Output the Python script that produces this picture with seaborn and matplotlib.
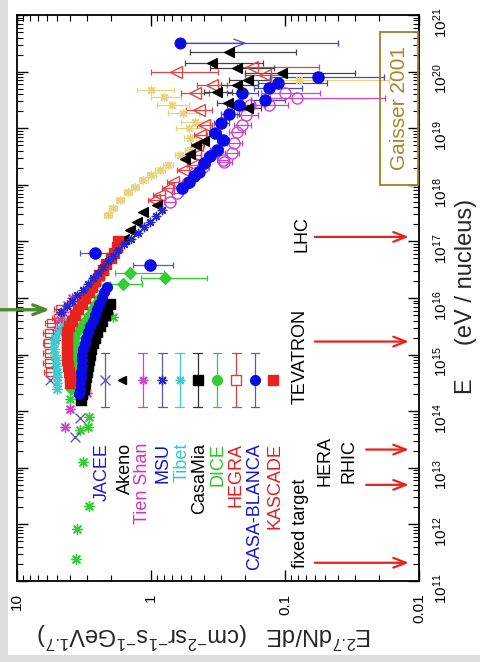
import numpy as np
import matplotlib
matplotlib.use("Agg")
import matplotlib.pyplot as plt
import seaborn as sns
from matplotlib.patches import Rectangle
from matplotlib.ticker import FixedLocator, FuncFormatter, LogLocator, NullFormatter

sns.set_style("ticks")
plt.rcParams["font.family"] = ["Liberation Sans", "DejaVu Sans"]
plt.rcParams["mathtext.fontset"] = "custom"
plt.rcParams["mathtext.rm"] = "Liberation Sans"
plt.rcParams["mathtext.it"] = "Liberation Sans:italic"
plt.rcParams["mathtext.bf"] = "Liberation Sans:bold"

# ---------------- data: log10(E / eV) and E^2.7 dN/dE ----------------
# direct measurements below the knee (green asterisks)
direct_logE = [11.39, 11.92, 12.33, 13.10, 13.67, 13.72, 13.90, 14.22, 15.66]
direct_flux = [3.62, 3.55, 2.90, 3.20, 3.40, 2.95, 2.90, 4.00, 1.93]

jacee_logE = [13.54, 13.88, 14.55]
jacee_flux = [3.70, 3.40, 5.68]

tienshan_logE = [13.72, 14.04, 14.32, 15.26, 15.43, 15.61, 15.75, 15.88, 16.00]
tienshan_flux = [4.39, 4.03, 3.00, 5.20, 5.00, 4.78, 4.50, 4.20, 3.90]

msu_logE = [15.75, 15.85, 15.95, 16.05, 16.15, 16.25, 16.35, 16.45, 16.55, 16.65,
            16.75, 16.85, 16.95, 17.05, 17.15, 17.25, 17.35, 17.45, 17.55]
msu_flux = [4.70, 4.25, 3.90, 3.55, 3.20, 2.95, 2.70, 2.50, 2.30, 2.10,
            1.92, 1.75, 1.60, 1.42, 1.25, 1.12, 1.02, 0.92, 0.83]

tibet_logE = [14.4, 14.5, 14.6, 14.7, 14.8, 14.9, 15.0, 15.1, 15.2, 15.3, 15.4,
              15.5, 15.6, 15.7, 15.8, 15.9, 16.0, 16.1, 16.2, 16.3, 16.4]
tibet_flux = [5.00, 5.00, 5.00, 5.05, 5.10, 5.15, 5.20, 5.25, 5.30, 5.20, 4.85,
              4.50, 4.15, 3.85, 3.55, 3.30, 3.05, 2.85, 2.65, 2.50, 2.35]

casamia_logE = [14.2, 14.3, 14.4, 14.5, 14.6, 14.7, 14.8, 14.9, 15.0, 15.1, 15.2,
                15.3, 15.4, 15.5, 15.6, 15.7, 15.8, 15.9]
casamia_flux = [3.35, 3.25, 3.15, 3.10, 3.05, 3.00, 2.95, 2.90, 2.85, 2.80, 2.72,
                2.62, 2.52, 2.42, 2.32, 2.22, 2.12, 2.03]

dice_logE = [14.4, 14.5, 14.6, 14.7, 14.8, 14.9, 15.0, 15.1, 15.2, 15.3, 15.4,
             15.5, 15.6, 15.7, 15.8, 15.9, 16.0]
dice_flux = [3.95, 3.92, 3.88, 3.85, 3.82, 3.78, 3.75, 3.72, 3.70, 3.68, 3.55,
             3.35, 3.12, 2.92, 2.75, 2.60, 2.45]
dice_hi_logE = [16.25, 16.35, 16.44]
dice_hi_flux = [1.62, 0.79, 1.44]
dice_hi_fmin = [1.16, 0.38, 0.80]
dice_hi_fmax = [2.03, 1.18, 1.86]

hegra_logE = [14.70, 14.85, 15.03, 15.20, 15.38, 15.56, 15.65, 15.80]
hegra_flux = [5.70, 5.80, 5.80, 5.85, 5.80, 5.60, 4.95, 4.78]

casablanca_logE = [14.3, 14.4, 14.5, 14.6, 14.7, 14.8, 14.9, 15.0, 15.1, 15.2,
                   15.3, 15.4, 15.5, 15.6, 15.7, 15.8, 15.9, 16.0, 16.1, 16.2]
casablanca_flux = [3.42, 3.40, 3.38, 3.35, 3.32, 3.30, 3.28, 3.25, 3.20, 3.12,
                   3.03, 2.95, 2.83, 2.72, 2.62, 2.52, 2.43, 2.33, 2.24, 2.14]
casablanca_hi_logE = [16.58, 16.80]
casablanca_hi_flux = [1.02, 2.63]
casablanca_hi_fmin = [0.69, 2.03]
casablanca_hi_fmax = [1.37, 3.40]

kascade_logE = [14.5, 14.6, 14.7, 14.8, 14.9, 15.0, 15.1, 15.2, 15.3, 15.4, 15.5,
                15.6, 15.7, 15.8, 15.9, 16.0, 16.1, 16.2, 16.3, 16.4, 16.5, 16.6,
                16.7, 16.8, 16.9, 17.0]
kascade_flux = [4.00, 4.05, 4.10, 4.15, 4.20, 4.20, 4.25, 4.25, 4.25, 4.20, 4.10,
                3.90, 3.70, 3.50, 3.30, 3.10, 2.90, 2.75, 2.60, 2.45, 2.30, 2.15,
                2.00, 1.90, 1.80, 1.75]

akeno_logE = [16.50, 16.62, 16.75, 16.90, 17.05, 17.20, 17.35, 17.52, 17.64,
              18.45, 18.55, 18.70, 18.78]
akeno_flux = [2.30, 2.15, 1.98, 1.78, 1.60, 1.44, 1.28, 1.15, 0.90,
              0.56, 0.515, 0.46, 0.40]
akeno_hi_logE = [19.36, 19.45, 19.64, 19.76, 19.85, 19.97, 20.06, 20.15, 20.35]
akeno_hi_flux = [0.19, 0.265, 0.32, 0.228, 0.19, 0.105, 0.23, 0.35, 0.26]
akeno_hi_fmin = [0.15, 0.21, 0.25, 0.16, 0.13, 0.030, 0.12, 0.147, 0.083]
akeno_hi_fmax = [0.24, 0.32, 0.40, 0.30, 0.26, 0.20, 0.36, 0.56, 0.515]

# highest-energy air-shower arrays
agasa_logE = [17.94, 18.05, 18.15, 18.23, 18.39, 18.50, 18.61, 18.79, 18.92,
              19.10, 19.25, 19.41, 19.50, 19.62, 19.71, 19.80, 19.90]
agasa_flux = [0.59, 0.52, 0.48, 0.44, 0.40, 0.36, 0.32, 0.29, 0.335,
              0.30, 0.26, 0.22, 0.14, 0.21, 0.131, 0.113, 0.057]
agasa_fmin = [0.54, 0.48, 0.44, 0.40, 0.36, 0.32, 0.29, 0.26, 0.30,
              0.26, 0.22, 0.18, 0.10, 0.16, 0.075, 0.049, 0.0182]
agasa_fmax = [0.64, 0.56, 0.52, 0.48, 0.44, 0.40, 0.36, 0.32, 0.37,
              0.34, 0.30, 0.27, 0.18, 0.27, 0.17, 0.16, 0.13]
agasa_limit_logE = [20.5]
agasa_limit_flux = [0.61]
agasa_limit_fmax = [1.18]
agasa_limit_fmin = [0.184]

haverah_logE = [17.73, 17.82, 17.94, 18.05, 18.26, 18.35, 18.53, 18.70, 18.88,
                19.06, 19.32, 19.62, 19.76, 19.94, 19.99, 20.08]
haverah_flux = [0.95, 0.87, 0.75, 0.69, 0.58, 0.49, 0.47, 0.45, 0.43,
                0.40, 0.44, 0.47, 0.35, 0.142, 0.65, 0.175]
haverah_fmin = [0.86, 0.79, 0.68, 0.62, 0.52, 0.44, 0.42, 0.40, 0.38,
                0.35, 0.35, 0.37, 0.27, 0.10, 0.318, 0.056]
haverah_fmax = [1.05, 0.96, 0.83, 0.76, 0.64, 0.54, 0.52, 0.50, 0.48,
                0.45, 0.55, 0.60, 0.45, 0.20, 1.00, 0.23]

flyseye_logE = [17.70, 17.86, 18.03, 18.21, 18.31, 18.40, 18.44, 18.56, 18.74,
                18.93, 19.06, 19.23, 19.41, 19.41, 19.53, 19.62]
flyseye_flux = [0.726, 0.64, 0.54, 0.47, 0.41, 0.283, 0.29, 0.25, 0.24,
                0.23, 0.21, 0.195, 0.184, 0.131, 0.081, 0.10]
flyseye_fmin = [0.66, 0.58, 0.49, 0.43, 0.37, 0.25, 0.26, 0.22, 0.21,
                0.20, 0.18, 0.16, 0.14, 0.095, 0.018, 0.055]
flyseye_fmax = [0.80, 0.70, 0.59, 0.52, 0.45, 0.31, 0.32, 0.28, 0.27,
                0.26, 0.24, 0.23, 0.24, 0.17, 0.13, 0.15]

yakutsk_logE = [17.47, 17.59, 17.73, 17.87, 17.96, 18.08, 18.17, 18.26, 18.35,
                18.53, 18.61, 18.83, 19.00, 19.11, 19.27, 19.41, 19.55, 19.67, 19.85]
yakutsk_flux = [2.10, 1.93, 1.71, 1.49, 1.32, 1.14, 1.00, 0.86, 0.75,
                0.61, 0.515, 0.515, 0.52, 0.47, 0.58, 0.70, 0.80, 1.00, 0.078]
yakutsk_fmin = [1.95, 1.80, 1.60, 1.38, 1.22, 1.05, 0.92, 0.79, 0.69,
                0.56, 0.47, 0.46, 0.42, 0.36, 0.44, 0.52, 0.60, 0.67, 0.0167]
yakutsk_fmax = [2.25, 2.07, 1.83, 1.60, 1.42, 1.23, 1.08, 0.93, 0.81,
                0.66, 0.56, 0.57, 0.65, 0.60, 0.75, 0.90, 1.00, 1.28, 0.131]

# accelerator equivalent lab energies
accel_names = ["fixed target", "HERA", "RHIC", "TEVATRON", "LHC"]
accel_E = [2.1e11, 2.1e13, 5.0e12, 1.7e15, 1.2e17]
knee_E = 6.2e15

flux_ticks = [10, 1, 0.1, 0.01]
flux_tick_labels = ["10", "1", "0.1", "0.01"]
energy_ticks = [1e11, 1e12, 1e13, 1e14, 1e15, 1e16, 1e17, 1e18, 1e19, 1e20, 1e21]

# ---------------- colours ----------------
BLUE = "#0a0ae6"
SLATE = "#5a5ab4"
RED = "#e8221c"
MAG = "#cc44cc"
CYAN = "#3fcccc"
GREEN = "#33cc33"
YELLOW = "#e8d27c"
ASTER = (8, 2, 0)

fig = plt.figure(figsize=(4.81, 6.62), dpi=100)
fig.patch.set_facecolor("white")
fig.add_artist(Rectangle((0, 0), 8 / 481, 1, transform=fig.transFigure,
                         facecolor="#dcdcdc", edgecolor="none", zorder=0))
fig.add_artist(Rectangle((0, 0), 1, 7 / 662, transform=fig.transFigure,
                         facecolor="#dcdcdc", edgecolor="none", zorder=0))

ax = fig.add_axes([17 / 481, 81 / 662, 402 / 481, 566 / 662])
ax.set_xscale("log")
ax.set_yscale("log")
ax.set_xlim(10, 0.01)
ax.set_ylim(1e11, 1e21)


def series(logE, flux, marker, color, ms, filled=True, fmin=None, fmax=None,
           ecolor=None, z=3, mew=1.0, cap=2.5):
    E = 10.0 ** np.asarray(logE, float)
    f = np.asarray(flux, float)
    if fmin is not None:
        xerr = [f - np.asarray(fmin, float), np.asarray(fmax, float) - f]
        ax.errorbar(f, E, xerr=xerr, fmt="none", ecolor=ecolor or color,
                    elinewidth=0.9, capsize=cap, capthick=0.9, zorder=z - 0.5)
    if filled:
        sns.scatterplot(x=f, y=E, marker=marker, s=ms ** 2, color=color,
                        edgecolor=color if marker not in (ASTER, "x") else None,
                        linewidth=mew, ax=ax, zorder=z, legend=False)
    else:
        ax.plot(f, E, linestyle="none", marker=marker, ms=ms, mfc="none",
                mec=color, mew=mew, zorder=z)


# low-energy and knee region
series(direct_logE, direct_flux, ASTER, GREEN, 7, z=3)
series(jacee_logE, jacee_flux, "x", SLATE, 7, z=3)
series(tienshan_logE, tienshan_flux, ASTER, MAG, 7, z=3)
series(hegra_logE, hegra_flux, "s", "#d84040", 6, filled=False,
       fmin=np.array(hegra_flux) * 0.9, fmax=np.array(hegra_flux) * 1.1, z=3)
series(tibet_logE, tibet_flux, ASTER, CYAN, 7, z=3.2)
series(dice_logE, dice_flux, "D", GREEN, 5.5, z=3.4)
series(dice_hi_logE, dice_hi_flux, "D", GREEN, 6, fmin=dice_hi_fmin,
       fmax=dice_hi_fmax, z=3.4)
series(casamia_logE, casamia_flux, "s", "black", 6.5, z=3.3)
series(casablanca_logE, casablanca_flux, "o", BLUE, 7, z=3.5)
series(casablanca_hi_logE, casablanca_hi_flux, "o", BLUE, 8,
       fmin=casablanca_hi_fmin, fmax=casablanca_hi_fmax, ecolor=SLATE, z=3.5)
series(akeno_logE, akeno_flux, "<", "black", 7, z=3.6)
series(kascade_logE, kascade_flux, "s", RED, 7, z=3.7)
series(msu_logE, msu_flux, ASTER, "#2626d0", 6, z=3.8)

# highest energies
series(yakutsk_logE, yakutsk_flux, ASTER, YELLOW, 5.5, fmin=yakutsk_fmin,
       fmax=yakutsk_fmax, z=3.0)
series(haverah_logE, haverah_flux, "<", "#e04444", 8, filled=False,
       fmin=haverah_fmin, fmax=haverah_fmax, z=3.1)
series(flyseye_logE, flyseye_flux, "o", MAG, 8, filled=False,
       fmin=flyseye_fmin, fmax=flyseye_fmax, z=3.2)
series(agasa_logE, agasa_flux, "o", BLUE, 8, fmin=agasa_fmin, fmax=agasa_fmax,
       ecolor="#4848c8", z=3.4)
series(akeno_hi_logE, akeno_hi_flux, "<", "black", 7, fmin=akeno_hi_fmin,
       fmax=akeno_hi_fmax, ecolor="#444444", z=3.5)

# upper-limit point: cap on the high-flux side, arrow towards low flux
for lE, f, fmx, fmn in zip(agasa_limit_logE, agasa_limit_flux,
                           agasa_limit_fmax, agasa_limit_fmin):
    E = 10 ** lE
    ax.errorbar([f], [E], xerr=[[fmx - f], [0]], fmt="none", ecolor="#4848c8",
                elinewidth=0.9, capsize=2.5, zorder=3.3)
    ax.annotate("", xy=(fmn, E), xytext=(f, E),
                arrowprops=dict(arrowstyle="->,head_length=0.8,head_width=0.3",
                                color="#4848c8", lw=0.9), zorder=3.3)
    sns.scatterplot(x=[f], y=[E], marker="o", s=64, color=BLUE,
                    edgecolor=BLUE, ax=ax, zorder=3.4, legend=False)

# ---------------- accelerator arrows ----------------
arrow_style = "->,head_length=0.9,head_width=0.35"
for name, E in zip(accel_names, accel_E):
    start = 0.0248 if name in ("HERA", "RHIC") else 0.060
    ax.annotate("", xy=(0.0119, E), xytext=(start, E),
                arrowprops=dict(arrowstyle=arrow_style, color=RED, lw=1.6,
                                shrinkA=0, shrinkB=0), zorder=5)

text_pos = {"fixed target": (0.704, 0.102), "HERA": (0.766, 0.212),
            "RHIC": (0.826, 0.212), "TEVATRON": (0.704, 0.396),
            "LHC": (0.709, 0.613)}
for name in accel_names:
    ax.text(*text_pos[name], name, transform=ax.transAxes, rotation=90,
            ha="center", va="center", fontsize=13, color="black", zorder=6)

# knee marker
ax.annotate("", xy=(5.68, knee_E), xytext=(-0.045, knee_E),
            xycoords="data", textcoords=("axes fraction", "data"),
            arrowprops=dict(arrowstyle="->,head_length=0.9,head_width=0.35",
                            color="#4e8a34", lw=2.4, shrinkA=0, shrinkB=0),
            annotation_clip=False, zorder=6)

# ---------------- legend (rotated layout) ----------------
legend_items = [
    ("JACEE", "#1c1cc8", "x", SLATE, True, True),
    ("Akeno", "black", "<", "black", False, True),
    ("Tien Shan", "#cc33cc", ASTER, MAG, True, True),
    ("MSU", "#1414c8", ASTER, "#2626d0", True, True),
    ("Tibet", "#33c8c8", ASTER, CYAN, True, True),
    ("CasaMia", "black", "s", "black", True, True),
    ("DICE", "#22c822", "o", GREEN, True, True),
    ("HEGRA", "#e81c1c", "s", "#d84040", True, False),
    ("CASA-BLANCA", "#1414d8", "o", BLUE, True, True),
    ("KASCADE", "#e81c1c", "s", RED, False, True),
]
key_x = [0.219, 0.261, 0.313, 0.361, 0.405, 0.450, 0.4975, 0.545, 0.592, 0.637]
label_x = [0.2114, 0.2687, 0.3134, 0.3632, 0.4104, 0.4552, 0.50, 0.5448, 0.592, 0.6418]
bar_colors = [SLATE, None, MAG, SLATE, CYAN, "#333333", GREEN, "#d84040", SLATE, None]
key_y, bar_lo, bar_hi, cap_w = 0.355, 0.307, 0.403, 0.011
for (lab, tcol, mk, mcol, has_bar, filled), kx, lx, bc in zip(
        legend_items, key_x, label_x, bar_colors):
    if has_bar:
        ax.plot([kx, kx], [bar_lo, bar_hi], color=bc, lw=0.9,
                transform=ax.transAxes, zorder=6)
        for yy in (bar_lo, bar_hi):
            ax.plot([kx - cap_w, kx + cap_w], [yy, yy], color=bc, lw=0.9,
                    transform=ax.transAxes, zorder=6)
    ms = 7 if mk != "<" else 6
    ax.plot([kx], [key_y], marker=mk, ms=ms, color=mcol,
            mfc=mcol if filled else "white", mec=mcol, mew=1,
            transform=ax.transAxes, zorder=7, linestyle="none")
    ax.text(lx, 0.244, lab, transform=ax.transAxes, rotation=90, ha="center",
            va="top", fontsize=13, color=tcol, zorder=7)

# ---------------- reference box ----------------
ax.add_patch(Rectangle((0.903, 0.700), 0.094, 0.270, transform=ax.transAxes,
                       fill=False, edgecolor="#a47c2c", lw=1.3, zorder=6))
ax.text(0.951, 0.835, "Gaisser 2001", transform=ax.transAxes, rotation=90,
        ha="center", va="center", fontsize=15, color="#a8842c", zorder=7)

# ---------------- axes styling ----------------
ax.xaxis.set_major_locator(FixedLocator(flux_ticks))
ax.xaxis.set_major_formatter(FuncFormatter(
    lambda v, _: flux_tick_labels[flux_ticks.index(min(flux_ticks, key=lambda t: abs(np.log10(t) - np.log10(v))))]))
ax.xaxis.set_minor_locator(LogLocator(base=10, subs=np.arange(2, 10), numticks=20))
ax.xaxis.set_minor_formatter(NullFormatter())
ax.yaxis.set_major_locator(FixedLocator(energy_ticks))
ax.yaxis.set_major_formatter(FuncFormatter(
    lambda v, _: r"$\mathregular{10^{%d}}$" % int(round(np.log10(v)))))
ax.yaxis.set_minor_locator(LogLocator(base=10, subs=np.arange(2, 10), numticks=30))
ax.yaxis.set_minor_formatter(NullFormatter())

ax.tick_params(which="both", direction="in", top=True, bottom=True, left=True,
               right=True, labelleft=False, labelright=True, labelbottom=True,
               colors="black")
ax.tick_params(which="major", length=8, width=1.0)
ax.tick_params(which="minor", length=4, width=0.8)
ax.tick_params(axis="both", which="major", labelsize=11, labelrotation=90, pad=9)
for s in ax.spines.values():
    s.set_linewidth(1.3)
    s.set_color("black")

ax.set_xlabel(r"$\mathregular{E^{2.7}dN/dE}$   "
              r"$\mathregular{(cm^{-2}sr^{-1}s^{-1}GeV^{1.7})}$",
              fontsize=17, rotation=180)
ax.xaxis.set_label_coords(0.468, -0.095)
ax.xaxis.label.set_va("center")
ax.yaxis.set_label_position("right")
ax.set_ylabel("E     (eV / nucleus)", fontsize=17, rotation=90)
ax.yaxis.set_label_coords(1.117, 0.5035)
ax.yaxis.label.set_va("center")
ax.yaxis.label.set_ha("center")

fig.savefig("out.png", dpi=100, facecolor="white")
